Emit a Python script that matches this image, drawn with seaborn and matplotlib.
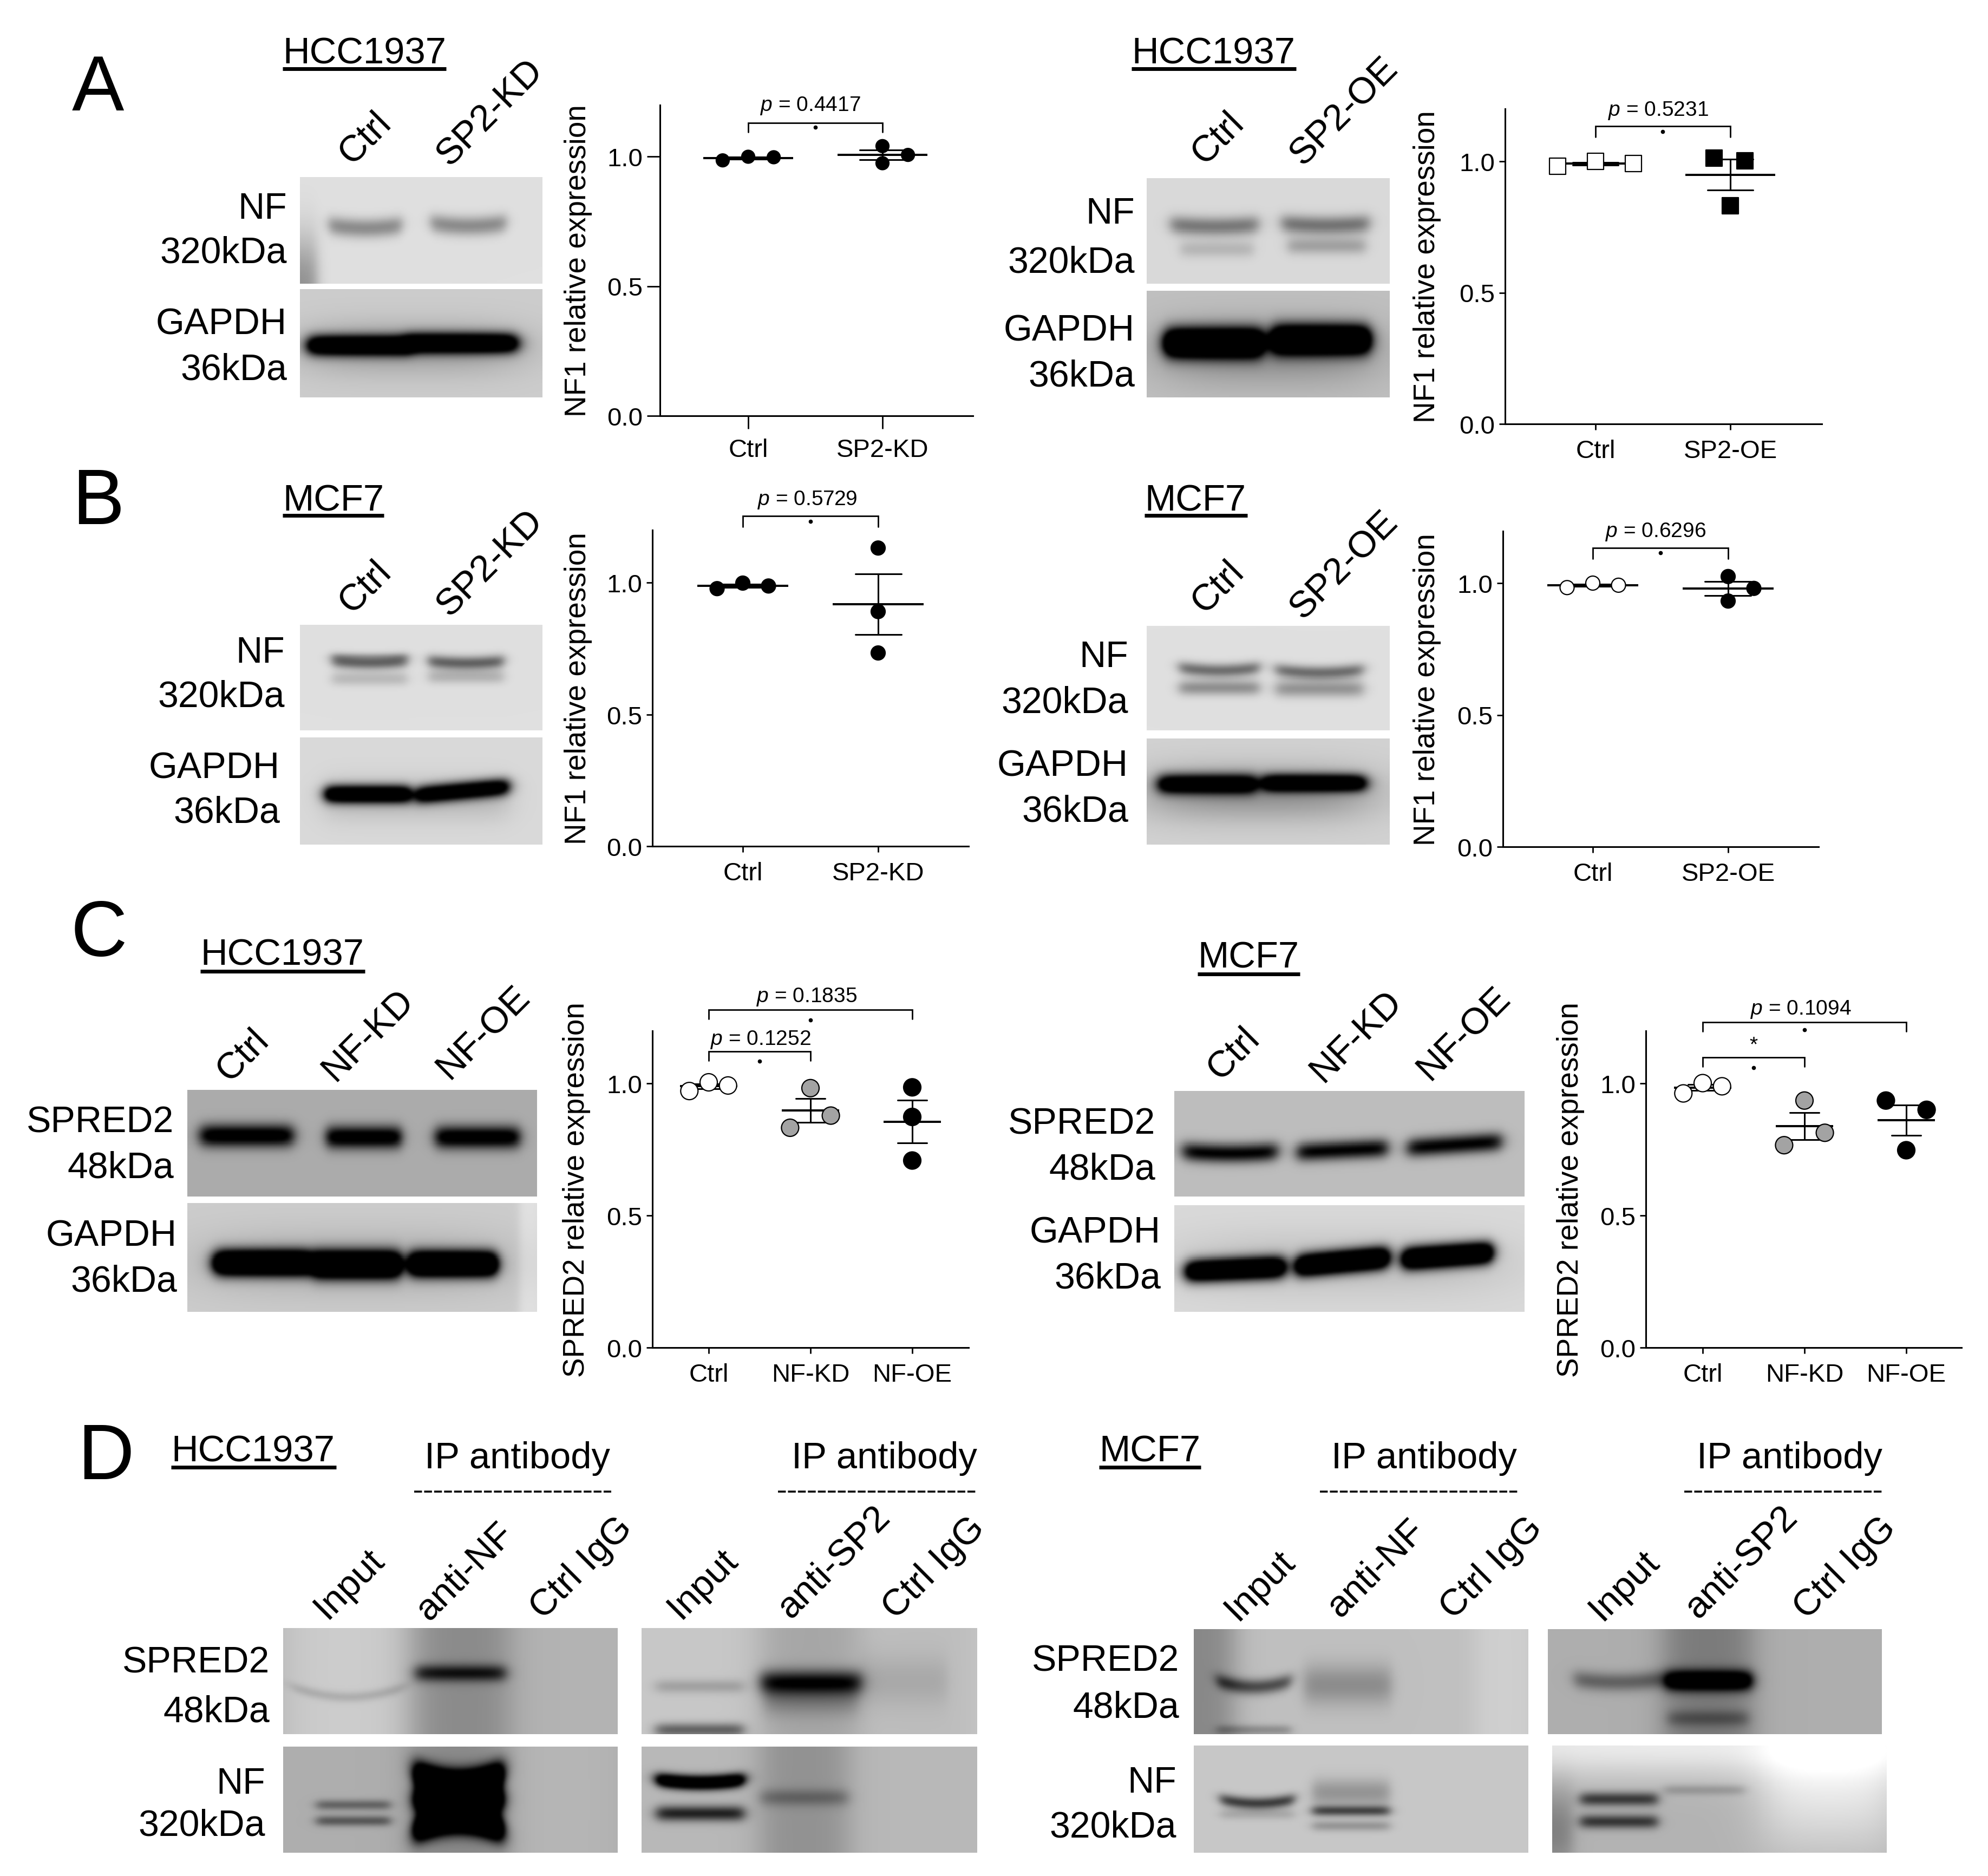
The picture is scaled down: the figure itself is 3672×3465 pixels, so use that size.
"""
plot.py
-------
Western blot panels with scatter summaries (mean +/- SEM) of relative expression.
"""

from __future__ import annotations

import matplotlib

matplotlib.use("Agg")
import matplotlib.pyplot as plt
import numpy as np
import pandas as pd
import seaborn as sns
from matplotlib.lines import Line2D

W, H = 3673, 3466
DPI = 100

FONT = "Liberation Sans"
GROUP_COLORS = {"white": "#ffffff", "gray": "#a3a3a3", "black": "#000000"}

# --- measured values -------------------------------------------------------
A1_CTRL = [0.985, 0.999, 0.997]
A1_KD = [1.040, 1.006, 0.974]
A2_CTRL = [0.982, 1.001, 0.991]
A2_OE = [1.013, 1.002, 0.831]
B1_CTRL = [0.977, 0.998, 0.987]
B1_KD = [1.131, 0.890, 0.733]
B2_CTRL = [0.983, 1.000, 0.992]
B2_OE = [1.025, 0.980, 0.932]
C1_CTRL = [0.971, 1.004, 0.992]
C1_KD = [0.982, 0.878, 0.832]
C1_OE = [0.985, 0.873, 0.708]
C2_CTRL = [0.962, 1.001, 0.989]
C2_KD = [0.935, 0.813, 0.766]
C2_OE = [0.935, 0.900, 0.747]

CTRL_SWARM = [-0.19, 0.0, 0.19]
KD_SWARM = [0.0, 0.19, 0.0]
C_KD_SWARM = [0.0, 0.2, -0.2]
LINE_SWARM = [0.0, 0.0, 0.0]
C2_OE_SWARM = [-0.2, 0.2, 0.0]
B2_OE_SWARM = [0.0, 0.19, 0.0]
A2_CTRL_SWARM = [-0.28, 0.0, 0.28]
A2_OE_SWARM = [-0.12, 0.11, 0.0]

YLABEL_NF1 = "NF1 relative expression"
YLABEL_SPRED2 = "SPRED2 relative expression"

# box = axis left, axis top, axis right, axis bottom, y pixel of 1.0, then the pixel x of the first two ticks
# bracket = first group, last group, top, foot, label y, label, dot y, label shift in pixels
PLOTS = [
    dict(box=(1219, 195, 1797, 769, 290, 1382, 1630), ylabel=YLABEL_NF1, label_off=151, tick=24, marker="o", size=24,
         names=["Ctrl", "SP2-KD"], values=[A1_CTRL, A1_KD], swarm=[CTRL_SWARM, KD_SWARM], colors=["black", "black"],
         brackets=[(0, 1, 1.13, 1.094, 1.198, r"$\mathit{p}$ = 0.4417", 1.112, -9)]),
    dict(box=(2780, 202, 3365, 784, 299, 2947, 3196), ylabel=YLABEL_NF1, label_off=144, tick=11, marker="s", size=30,
         names=["Ctrl", "SP2-OE"], values=[A2_CTRL, A2_OE], swarm=[A2_CTRL_SWARM, A2_OE_SWARM], colors=["white", "black"],
         brackets=[(0, 1, 1.134, 1.093, 1.194, r"$\mathit{p}$ = 0.5231", 1.114, -9)]),
    dict(box=(1205, 980, 1789, 1564, 1077, 1372, 1622), ylabel=YLABEL_NF1, label_off=137, tick=11, marker="o", size=26,
         names=["Ctrl", "SP2-KD"], values=[B1_CTRL, B1_KD], swarm=[CTRL_SWARM, LINE_SWARM], colors=["black", "black"],
         brackets=[(0, 1, 1.253, 1.211, 1.316, r"$\mathit{p}$ = 0.5729", 1.233, -6)]),
    dict(box=(2776, 982, 3359, 1565, 1078, 2942, 3192), ylabel=YLABEL_NF1, label_off=140, tick=11, marker="o", size=26,
         names=["Ctrl", "SP2-OE"], values=[B2_CTRL, B2_OE], swarm=[CTRL_SWARM, B2_OE_SWARM], colors=["white", "black"],
         brackets=[(0, 1, 1.133, 1.093, 1.196, r"$\mathit{p}$ = 0.6296", 1.114, -9)]),
    dict(box=(1205, 1905, 1789, 2490, 2002, 1309, 1497), ylabel=YLABEL_SPRED2, label_off=140, tick=11, marker="o", size=32,
         names=["Ctrl", "NF-KD", "NF-OE"], values=[C1_CTRL, C1_KD, C1_OE], swarm=[CTRL_SWARM, C_KD_SWARM, LINE_SWARM],
         colors=["white", "gray", "black"],
         brackets=[(0, 2, 1.279, 1.243, 1.329, r"$\mathit{p}$ = 0.1835", 1.24, -7),
                   (0, 1, 1.12, 1.087, 1.167, r"$\mathit{p}$ = 0.1252", 1.085, 2)]),
    dict(box=(3040, 1905, 3623, 2490, 2002, 3145, 3333), ylabel=YLABEL_SPRED2, label_off=139, tick=11, marker="o", size=32,
         names=["Ctrl", "NF-KD", "NF-OE"], values=[C2_CTRL, C2_KD, C2_OE], swarm=[CTRL_SWARM, C_KD_SWARM, C2_OE_SWARM],
         colors=["white", "gray", "black"],
         brackets=[(0, 2, 1.231, 1.197, 1.282, r"$\mathit{p}$ = 0.1094", 1.203, -7),
                   (0, 1, 1.099, 1.064, 1.144, "*", 1.06, 0)]),
]

# --- blot images: box in pixels, background level, then bands ----------------
# band = centre x, centre y, half width, half height (fractions of the blot), darkness, curve, tilt
BLOTS = [
    # A, HCC1937 knock-down
    ((554, 328, 1002, 525), 0.875, [(0.27, 0.48, 0.15, 0.055, 0.33, 0.03, 0), (0.695, 0.46, 0.155, 0.055, 0.33, 0.03, 0),
                                    (0.0, 1.0, 0.07, 0.45, 0.3, 0, 0)]),
    ((554, 535, 1002, 735), 0.80, [(0.245, 0.52, 0.21, 0.09, 1.3, 0, 0), (0.67, 0.50, 0.225, 0.09, 1.3, 0, 0),
                                   (0.46, 0.55, 0.43, 0.24, 0.18, 0, 0)]),
    # A, HCC1937 over-expression
    ((2118, 330, 2567, 525), 0.85, [(0.28, 0.46, 0.18, 0.055, 0.38, 0.02, 0), (0.735, 0.45, 0.18, 0.055, 0.40, 0.02, 0),
                                    (0.29, 0.67, 0.15, 0.05, 0.14, 0, 0), (0.74, 0.64, 0.16, 0.05, 0.22, 0, 0)]),
    ((2118, 538, 2567, 735), 0.75, [(0.277, 0.49, 0.2, 0.13, 1.6, 0, 0), (0.716, 0.46, 0.2, 0.13, 1.6, 0, 0),
                                    (0.5, 0.58, 0.42, 0.3, 0.2, 0, 0)]),
    # B, MCF7 knock-down
    ((554, 1155, 1002, 1350), 0.875, [(0.288, 0.36, 0.155, 0.04, 0.5, 0.02, 0), (0.288, 0.51, 0.155, 0.04, 0.15, 0, 0),
                                      (0.288, 0.30, 0.155, 0.02, 0.1, 0, 0), (0.685, 0.365, 0.155, 0.04, 0.5, 0.02, 0),
                                      (0.685, 0.49, 0.155, 0.04, 0.18, 0, 0)]),
    ((554, 1363, 1002, 1561), 0.85, [(0.28, 0.53, 0.175, 0.08, 1.3, 0, 0), (0.67, 0.5, 0.19, 0.08, 1.2, 0, -0.04),
                                     (0.48, 0.58, 0.38, 0.2, 0.12, 0, 0)]),
    # B, MCF7 over-expression
    ((2118, 1157, 2567, 1350), 0.875, [(0.30, 0.43, 0.165, 0.04, 0.45, 0.03, 0), (0.30, 0.59, 0.165, 0.045, 0.32, 0, 0),
                                       (0.71, 0.45, 0.18, 0.04, 0.45, 0.03, 0), (0.71, 0.60, 0.18, 0.05, 0.30, 0, 0)]),
    ((2118, 1365, 2567, 1561), 0.82, [(0.25, 0.43, 0.2, 0.09, 1.1, 0, 0), (0.69, 0.42, 0.21, 0.08, 1.2, 0, 0),
                                      (0.46, 0.52, 0.44, 0.25, 0.25, 0, 0)]),
    # C, HCC1937
    ((346, 2014, 992, 2211), 0.67, [(0.17, 0.43, 0.133, 0.065, 0.8, 0, 0), (0.505, 0.445, 0.107, 0.065, 0.8, 0, 0),
                                    (0.83, 0.445, 0.12, 0.065, 0.8, 0, 0)]),
    ((346, 2223, 992, 2424), 0.80, [(0.216, 0.55, 0.138, 0.11, 1.7, 0, 0), (0.484, 0.566, 0.125, 0.12, 1.7, 0, 0),
                                    (0.76, 0.56, 0.124, 0.11, 1.7, 0, 0), (0.98, 0.5, 0.03, 10, -0.08, 0, 0),
                                    (0.48, 0.55, 0.42, 0.3, 0.12, 0, 0)]),
    # C, MCF7
    ((2169, 2016, 2816, 2211), 0.74, [(0.16, 0.59, 0.135, 0.055, 0.75, 0.02, 0), (0.48, 0.56, 0.128, 0.055, 0.75, 0, -0.02),
                                      (0.80, 0.51, 0.134, 0.055, 0.75, 0, -0.03)]),
    ((2169, 2227, 2816, 2424), 0.85, [(0.175, 0.60, 0.14, 0.1, 1.5, 0, -0.02), (0.48, 0.53, 0.13, 0.1, 1.6, 0, -0.04),
                                      (0.78, 0.475, 0.127, 0.1, 1.6, 0, -0.03), (0.48, 0.55, 0.44, 0.3, 0.1, 0, 0)]),
    # D, HCC1937 anti-NF
    ((523, 3008, 1141, 3204), 0.70, [(0.19, 0.5, 0.19, 10, -0.1, 0, 0), (0.53, 0.5, 0.145, 10, 0.16, 0, 0),
                                     (0.195, 0.65, 0.17, 0.03, 0.12, 0.1, 0), (0.53, 0.425, 0.135, 0.05, 0.5, 0, 0)]),
    ((523, 3227, 1141, 3423), 0.68, [(0.21, 0.55, 0.11, 0.03, 0.3, 0, 0), (0.21, 0.70, 0.11, 0.03, 0.35, 0, 0),
                                     (0.525, 0.36, 0.13, 0.13, 1.6, 0.1, 0), (0.525, 0.68, 0.13, 0.13, 1.6, -0.1, 0),
                                     (0.525, 0.5, 0.13, 0.12, 1.5, 0, 0),
                                     (0.525, 0.5, 0.14, 10, 0.14, 0, 0), (0.82, 0.5, 0.17, 10, -0.03, 0, 0)]),
    # D, HCC1937 anti-SP2
    ((1185, 3008, 1805, 3204), 0.78, [(0.173, 0.55, 0.13, 0.04, 0.15, 0, 0), (0.173, 0.96, 0.13, 0.04, 0.4, 0, 0),
                                      (0.505, 0.51, 0.15, 0.07, 0.6, 0, 0), (0.505, 0.5, 0.15, 10, 0.13, 0, 0),
                                      (0.505, 0.66, 0.14, 0.1, 0.2, 0, 0), (0.78, 0.5, 0.13, 0.15, 0.08, 0, 0),
                                      (0.85, 0.5, 0.15, 10, 0.04, 0, 0)]),
    ((1185, 3227, 1805, 3423), 0.72, [(0.175, 0.34, 0.13, 0.065, 1.2, 0.03, 0), (0.175, 0.63, 0.13, 0.045, 0.6, 0, 0),
                                      (0.485, 0.5, 0.13, 10, 0.15, 0, 0), (0.485, 0.48, 0.13, 0.05, 0.2, 0, 0)]),
    # D, MCF7 anti-NF
    ((2205, 3010, 2823, 3204), 0.75, [(0.18, 0.55, 0.11, 0.045, 0.45, 0.06, 0), (0.18, 0.96, 0.11, 0.03, 0.2, 0, 0),
                                      (0.46, 0.53, 0.13, 0.12, 0.2, 0, 0), (0.0, 0.5, 0.12, 10, 0.22, 0, 0),
                                      (0.93, 0.5, 0.09, 10, -0.06, 0, 0)]),
    ((2205, 3225, 2823, 3423), 0.78, [(0.19, 0.54, 0.11, 0.035, 0.55, 0.04, 0), (0.19, 0.64, 0.11, 0.03, 0.12, 0, 0),
                                      (0.47, 0.61, 0.115, 0.03, 0.5, 0, 0), (0.47, 0.75, 0.115, 0.03, 0.2, 0, 0),
                                      (0.47, 0.44, 0.115, 0.08, 0.2, 0, 0)]),
    # D, MCF7 anti-SP2
    ((2859, 3010, 3476, 3204), 0.68, [(0.21, 0.505, 0.13, 0.055, 0.3, 0.03, 0), (0.48, 0.49, 0.13, 0.06, 0.9, 0, 0),
                                      (0.48, 0.5, 0.13, 10, 0.2, 0, 0), (0.48, 0.85, 0.12, 0.05, 0.2, 0, 0)]),
    ((2867, 3225, 3485, 3423), 0.70, [(0.5, 0.0, 1.0, 0.3, -0.22, 0, 0), (0.83, 0.4, 0.2, 0.6, -0.2, 0, 0),
                                      (0.2, 0.50, 0.115, 0.04, 0.5, 0, 0), (0.2, 0.71, 0.115, 0.04, 0.5, 0, 0),
                                      (0.455, 0.415, 0.12, 0.03, 0.15, 0, 0), (0.0, 0.8, 0.06, 0.4, 0.2, 0, 0)]),
]

# --- text labels, given as pixel anchors -------------------------------------
ROW_LABELS = [
    ("NF", 530, 386), ("320kDa", 530, 468), ("GAPDH", 530, 600), ("36kDa", 530, 683),
    ("NF", 2096, 395), ("320kDa", 2096, 485), ("GAPDH", 2096, 612), ("36kDa", 2096, 696),
    ("NF", 526, 1206), ("320kDa", 526, 1288), ("GAPDH", 517, 1419), ("36kDa", 517, 1502),
    ("NF", 2084, 1214), ("320kDa", 2084, 1299), ("GAPDH", 2084, 1416), ("36kDa", 2084, 1500),
    ("SPRED2", 321, 2074), ("48kDa", 321, 2158), ("GAPDH", 327, 2283), ("36kDa", 327, 2368),
    ("SPRED2", 2134, 2077), ("48kDa", 2134, 2161), ("GAPDH", 2144, 2277), ("36kDa", 2144, 2362),
    ("SPRED2", 498, 3072), ("48kDa", 498, 3163), ("NF", 490, 3295), ("320kDa", 490, 3373),
    ("SPRED2", 2178, 3069), ("48kDa", 2178, 3155), ("NF", 2173, 3293), ("320kDa", 2173, 3376),
]
LANE_LABELS = [
    ("Ctrl", 674, 255), ("SP2-KD", 906, 208), ("Ctrl", 2249, 255), ("SP2-OE", 2483, 206),
    ("Ctrl", 674, 1084), ("SP2-KD", 906, 1040), ("Ctrl", 2249, 1084), ("SP2-OE", 2483, 1044),
    ("Ctrl", 448, 1949), ("NF-KD", 680, 1912), ("NF-OE", 893, 1907),
    ("Ctrl", 2278, 1946), ("NF-KD", 2505, 1914), ("NF-OE", 2704, 1909),
    ("Input", 645, 2925), ("anti-NF", 859, 2903), ("Ctrl IgG", 1074, 2897),
    ("Input", 1298, 2925), ("anti-SP2", 1540, 2886), ("Ctrl IgG", 1725, 2897),
    ("Input", 2327, 2928), ("anti-NF", 2542, 2897), ("Ctrl IgG", 2755, 2897),
    ("Input", 3000, 2928), ("anti-SP2", 3216, 2886), ("Ctrl IgG", 3408, 2897),
]
CELL_TITLES = [
    ("HCC1937", 522, 824, 100, 128), ("HCC1937", 2090, 2394, 100, 128),
    ("MCF7", 522, 709, 926, 953), ("MCF7", 2114, 2304, 926, 953),
    ("HCC1937", 370, 674, 1765, 1795), ("MCF7", 2212, 2401, 1769, 1800),
    ("HCC1937", 316, 621, 2682, 2711), ("MCF7", 2030, 2218, 2682, 2711),
]
PANEL_LETTERS = [("A", 181, 166), ("B", 181, 930), ("C", 183, 1729), ("D", 195, 2695)]
IP_HEADERS = [(955, 765, 1129), (1633, 1437, 1803), (2630, 2438, 2803), (3305, 3111, 3478)]


def px_axes(fig, left, top, right, bottom):
    return fig.add_axes([left / W, 1 - bottom / H, (right - left) / W, (bottom - top) / H])


def fig_text(fig, x, y, s, **kwargs):
    fig.text(x / W, 1 - y / H, s, **kwargs)


def fig_line(fig, x0, x1, y, lw, **kwargs):
    fig.add_artist(Line2D([x0 / W, x1 / W], [1 - y / H, 1 - y / H], color="black", lw=lw,
                          solid_capstyle="butt", **kwargs))


def soften(img):
    # small blur, the scans are not sharp
    kernel = np.array([1, 4, 6, 4, 1]) / 16
    for axis in (0, 1):
        padded = np.pad(img, [(2, 2) if a == axis else (0, 0) for a in (0, 1)], mode="edge")
        img = np.apply_along_axis(lambda v: np.convolve(v, kernel, mode="valid"), axis, padded)
    return img


def render_blot(width, height, background, bands):
    xs = (np.arange(width) + 0.5) / width
    ys = (np.arange(height) + 0.5) / height
    xx, yy = np.meshgrid(xs, ys)
    img = np.full(xx.shape, background, dtype=float)
    for cx, cy, half_w, half_h, dark, curve, tilt in bands:
        edge = 0.4 if half_h > 0.2 else 0.16
        thick = half_h * 1.6 if dark < 1 and half_h < 0.2 else half_h
        u = (xx - cx) / half_w
        across = 0.5 * (np.tanh((u + 1) / edge) - np.tanh((u - 1) / edge))
        u_c = np.clip(u, -1.3, 1.3)
        along = np.exp(-(((yy - cy + curve * u_c**2 - tilt * u_c) / thick) ** 2))
        img -= dark * across * along
    return soften(np.clip(img, 0, 1))


def draw_blot(fig, box, background, bands):
    left, top, right, bottom = box
    ax = px_axes(fig, left, top, right, bottom)
    img = render_blot((right - left) // 2, (bottom - top) // 2, background, bands)
    sns.heatmap(img, ax=ax, cmap="gray", vmin=0, vmax=1, cbar=False, xticklabels=False, yticklabels=False)
    ax.set_axis_off()


def draw_plot(fig, spec):
    left, top, right, bottom, one_y, tick0, tick1 = spec["box"]
    ax = px_axes(fig, left, top, right, bottom)
    spacing = tick1 - tick0

    rows = []
    for pos, (name, vals, swarm, color) in enumerate(zip(spec["names"], spec["values"], spec["swarm"], spec["colors"])):
        for val, off in zip(vals, swarm):
            rows.append({"pos": pos, "name": name, "value": val, "jx": pos + off, "fill": color})
    df = pd.DataFrame(rows)

    mean_half = 0.335 if len(spec["names"]) == 2 else 0.28
    cap = 0.34 if len(spec["names"]) == 2 else 0.29
    sns.pointplot(data=df, x="pos", y="value", native_scale=True, errorbar="se", color="black",
                  linestyle="none", marker="_", markersize=2 * mean_half * spacing * 72 / DPI,
                  markeredgewidth=2.9, capsize=cap, err_kws={"linewidth": 2.2}, ax=ax, zorder=3)
    sns.scatterplot(data=df, x="jx", y="value", hue="fill", palette=GROUP_COLORS, marker=spec["marker"],
                    s=(spec["size"] * 72 / DPI) ** 2, edgecolor="black", linewidth=1.6, legend=False,
                    ax=ax, zorder=5, clip_on=False)

    ax.set_xlim((left - tick0) / spacing, (right - tick0) / spacing)
    ax.set_ylim(0, (bottom - top) / (bottom - one_y))
    ax.set_xticks(range(len(spec["names"])), spec["names"])
    ax.set_yticks([0, 0.5, 1.0], ["0.0", "0.5", "1.0"])
    ax.set_xlabel("")
    sns.despine(ax=ax)
    for side in ("left", "bottom"):
        ax.spines[side].set_linewidth(2.2)
    tick_pt = spec["tick"] * 72 / DPI
    ax.tick_params(axis="x", length=tick_pt, width=2.0, labelsize=34, pad=12)
    ax.tick_params(axis="y", length=tick_pt, width=2.0, labelsize=34, pad=5.8)
    ax.set_ylabel(spec["ylabel"], fontsize=39.5, va="center")
    ax.yaxis.set_label_coords(-spec["label_off"] / (right - left), 0.5)

    for x0, x1, y_top, y_drop, y_text, label, y_dot, shift in spec["brackets"]:
        ax.plot([x0, x0, x1, x1], [y_drop, y_top, y_top, y_drop], color="black", lw=2.0, clip_on=False,
                solid_joinstyle="miter")
        mid = (x0 + x1) / 2
        # labels sit above the axis, so annotation clipping has to stay off
        ax.annotate(label, (mid, y_text), xytext=(shift * 72 / DPI, 0), textcoords="offset points",
                    ha="center", va="center", fontsize=28, annotation_clip=False)
        ax.plot([mid], [y_dot], marker="o", ms=4.5, color="black", clip_on=False)


def main() -> None:
    sns.set_theme(style="ticks", rc={"axes.grid": False})
    plt.rcParams["font.family"] = [FONT, "DejaVu Sans"]
    plt.rcParams["mathtext.fontset"] = "custom"
    plt.rcParams["mathtext.rm"] = FONT
    plt.rcParams["mathtext.it"] = f"{FONT}:italic"
    plt.rcParams["mathtext.default"] = "rm"
    plt.rcParams["text.color"] = "black"
    plt.rcParams["axes.edgecolor"] = "black"
    plt.rcParams["axes.labelcolor"] = "black"
    plt.rcParams["xtick.color"] = "black"
    plt.rcParams["ytick.color"] = "black"

    fig = plt.figure(figsize=(W / DPI, H / DPI), dpi=DPI, facecolor="white")

    for box, background, bands in BLOTS:
        draw_blot(fig, box, background, bands)
    for spec in PLOTS:
        draw_plot(fig, spec)

    for text, x, y in ROW_LABELS:
        fig_text(fig, x, y, text, ha="right", va="center", fontsize=49)
    for text, x, y in LANE_LABELS:
        fig_text(fig, x, y, text, ha="center", va="center", rotation=45, fontsize=49.5)
    for text, x0, x1, y, y_line in CELL_TITLES:
        fig_text(fig, x0, y, text, ha="left", va="center", fontsize=49.5)
        fig_line(fig, x0, x1, y_line, 5)
    for text, x, y in PANEL_LETTERS:
        fig_text(fig, x, y, text, ha="center", va="center", fontsize=104)
    for x, x0, x1 in IP_HEADERS:
        fig_text(fig, x, 2694, "IP antibody", ha="center", va="center", fontsize=49.5)
        fig_line(fig, x0, x1, 2756, 2.6, linestyle=(0, (4, 1.1)))

    fig.savefig("out.png", dpi=DPI)
    plt.close(fig)


if __name__ == "__main__":
    main()
